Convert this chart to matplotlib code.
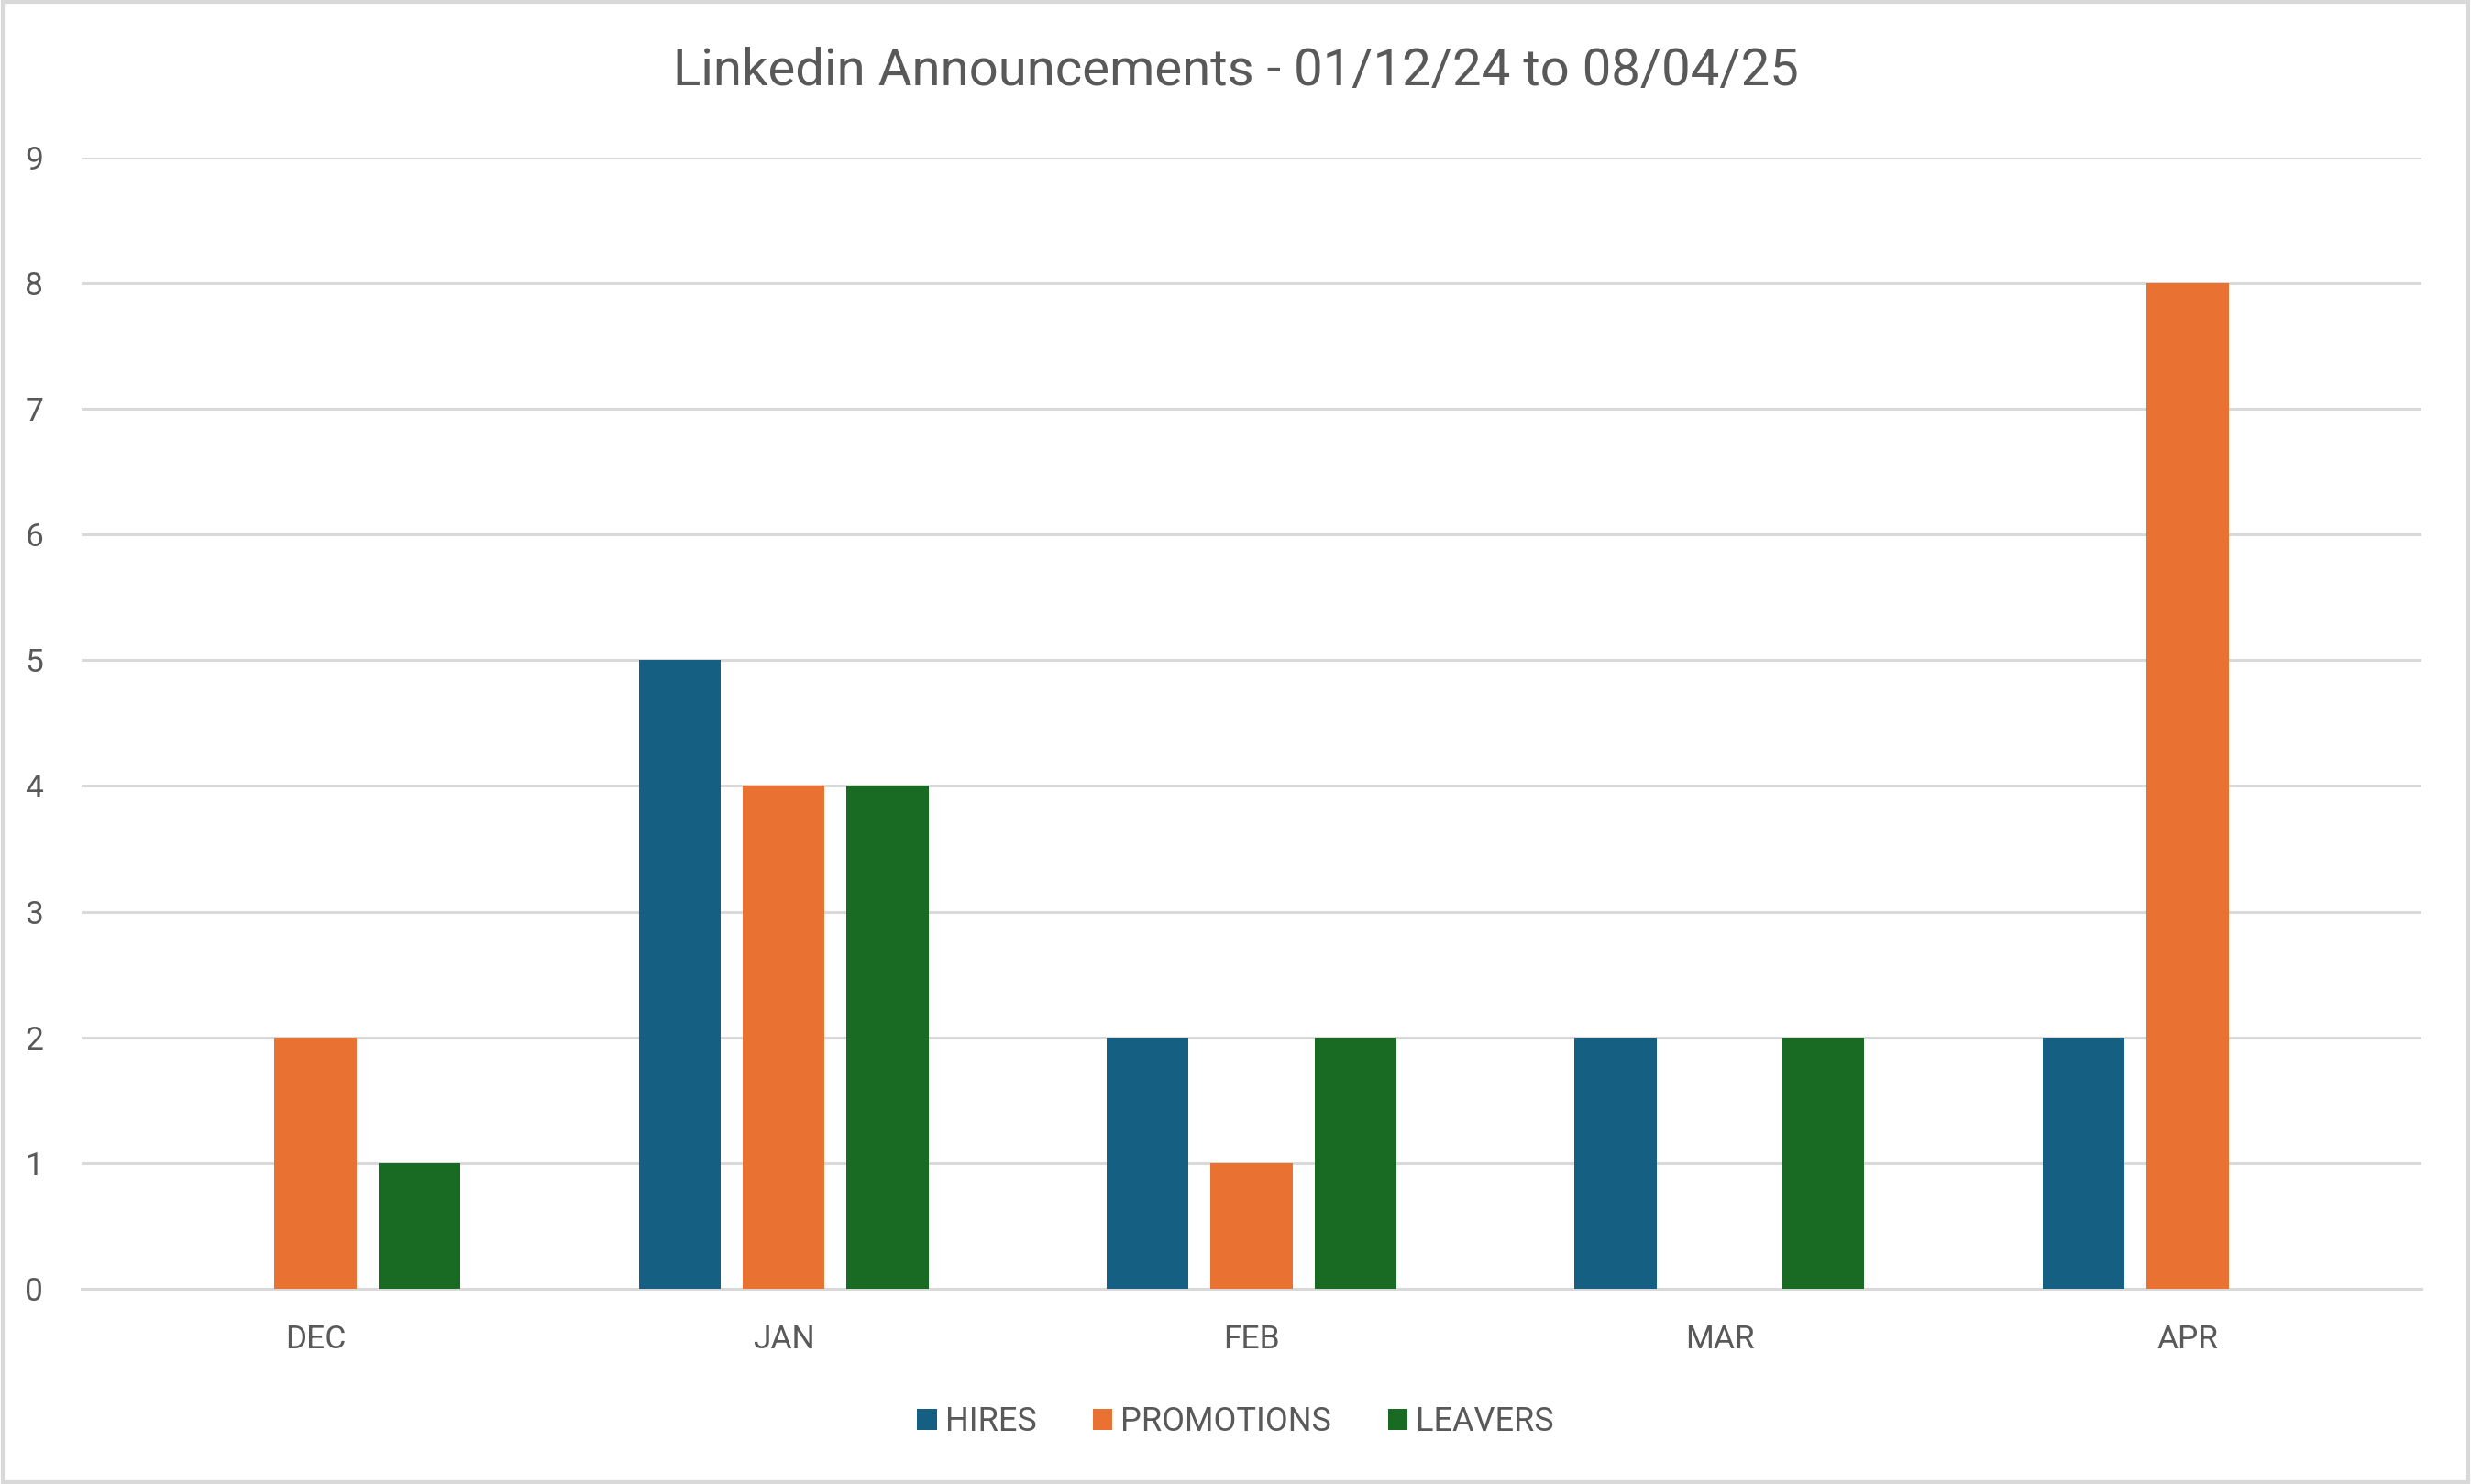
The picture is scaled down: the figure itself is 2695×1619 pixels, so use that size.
import matplotlib.pyplot as plt
import numpy as np
from matplotlib.patches import Rectangle

# Chart data
months = ["DEC", "JAN", "FEB", "MAR", "APR"]
hires = [0, 5, 2, 2, 2]
promotions = [2, 4, 1, 0, 8]
leavers = [1, 4, 2, 2, 0]
y_ticks = list(range(0, 10))

series_names = ["HIRES", "PROMOTIONS", "LEAVERS"]
colors = ["#156082", "#E97132", "#196B24"]
text_color = "#595959"
grid_color = "#D9D9D9"

plt.rcParams['font.family'] = ['Roboto', 'DejaVu Sans']

fig = plt.figure(figsize=(26.95, 16.19), dpi=100)
ax = fig.add_axes([0.033, 0.1316, 0.947, 0.7622])

x = np.arange(len(months))
width = 0.175
offset = 0.222
for i, (vals, name, col) in enumerate(zip([hires, promotions, leavers], series_names, colors)):
    ax.bar(x + (i - 1) * offset, vals, width, color=col, label=name, zorder=3)

ax.set_xlim(-0.5, len(months) - 0.5)
ax.set_ylim(0, 9)
ax.set_yticks(y_ticks)
ax.set_xticks(x)
ax.set_xticklabels(months)
ax.yaxis.grid(True, color=grid_color, linewidth=2.2, zorder=0)
ax.tick_params(axis='both', length=0, labelsize=25.5, colors=text_color)
ax.tick_params(axis='y', pad=30)
ax.tick_params(axis='x', pad=28)
for s in ['left', 'right', 'top']:
    ax.spines[s].set_visible(False)
ax.spines['bottom'].set_color(grid_color)
ax.spines['bottom'].set_linewidth(2.2)

fig.text(0.5, 0.952, "Linkedin Announcements - 01/12/24 to 08/04/25",
         ha='center', va='center', fontsize=40.5, color=text_color)

leg = fig.legend(loc='center', bbox_to_anchor=(0.5, 0.042), ncol=3, frameon=False,
                 fontsize=26, handlelength=0.6, handleheight=0.6, handletextpad=0.25,
                 columnspacing=1.7)
for t in leg.get_texts():
    t.set_color(text_color)

# light frame around the whole chart
fig.patches.append(Rectangle((0.001, 0.001), 0.998, 0.998, transform=fig.transFigure,
                             fill=False, edgecolor=grid_color, linewidth=3))

fig.savefig("out.png", dpi=100)
